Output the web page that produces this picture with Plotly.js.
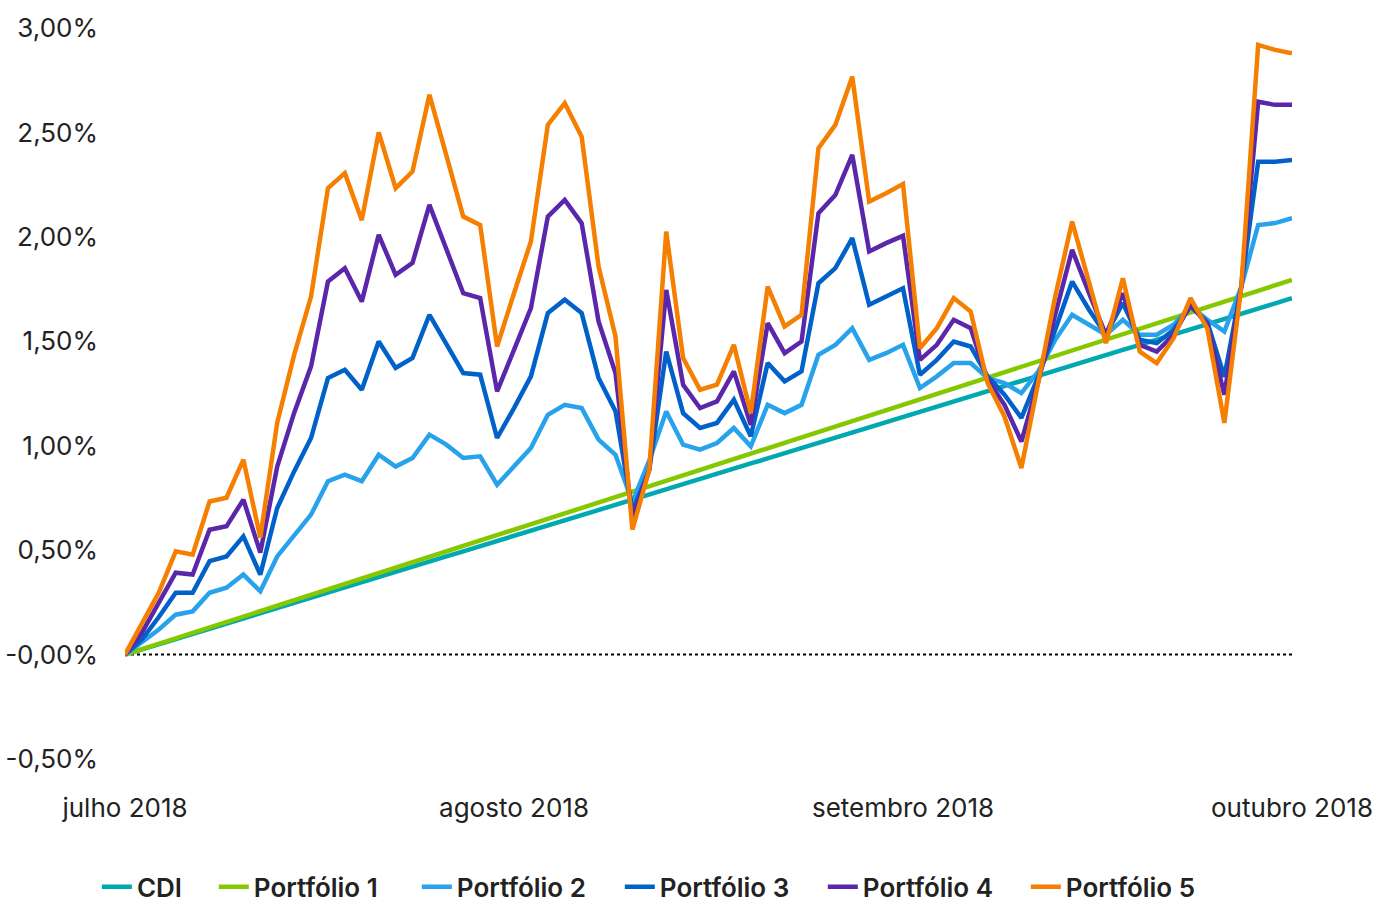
<!DOCTYPE html>
<html>
<head>
<meta charset="utf-8">
<script src="https://cdn.plot.ly/plotly-3.0.1.min.js"></script>
<style>
  html, body { margin: 0; padding: 0; background: #fff; }
  #grafico { width: 1392px; height: 904px; }
</style>
</head>
<body>
<div id="grafico"></div>
<script>
// rentabilidade acumulada (%) por dia util, jul-out 2018
var cdi = [0, 0.025, 0.049, 0.074, 0.099, 0.124, 0.148, 0.173, 0.198, 0.223,
  0.247, 0.272, 0.297, 0.321, 0.346, 0.371, 0.396, 0.420, 0.445, 0.470,
  0.494, 0.519, 0.544, 0.569, 0.593, 0.618, 0.643, 0.668, 0.692, 0.717,
  0.742, 0.766, 0.791, 0.816, 0.841, 0.865, 0.890, 0.915, 0.939, 0.964,
  0.989, 1.014, 1.038, 1.063, 1.088, 1.112, 1.137, 1.162, 1.187, 1.211,
  1.236, 1.261, 1.285, 1.310, 1.335, 1.360, 1.384, 1.409, 1.434, 1.459,
  1.483, 1.508, 1.533, 1.557, 1.582, 1.607, 1.632, 1.656, 1.681, 1.706];

var portfolio1 = [0, 0.026, 0.052, 0.078, 0.104, 0.130, 0.156, 0.182, 0.208, 0.234,
  0.260, 0.286, 0.312, 0.338, 0.364, 0.390, 0.416, 0.442, 0.468, 0.494,
  0.520, 0.546, 0.572, 0.598, 0.624, 0.650, 0.676, 0.702, 0.728, 0.754,
  0.780, 0.806, 0.832, 0.858, 0.884, 0.910, 0.936, 0.962, 0.988, 1.014,
  1.040, 1.066, 1.092, 1.118, 1.144, 1.170, 1.196, 1.222, 1.248, 1.274,
  1.300, 1.326, 1.352, 1.378, 1.404, 1.430, 1.456, 1.482, 1.508, 1.534,
  1.560, 1.586, 1.612, 1.638, 1.664, 1.690, 1.716, 1.742, 1.768, 1.794];

var portfolio2 = [0, 0.057, 0.12, 0.191, 0.207, 0.296, 0.32, 0.383, 0.303, 0.47,
  0.574, 0.67, 0.83, 0.861, 0.83, 0.957, 0.90, 0.941, 1.053, 1.005,
  0.941, 0.949, 0.813, 0.90, 0.989, 1.148, 1.196, 1.18, 1.029, 0.957,
  0.73, 0.93, 1.164, 1.005, 0.981, 1.013, 1.085, 0.997, 1.196, 1.156,
  1.196, 1.435, 1.483, 1.563, 1.411, 1.443, 1.483, 1.276, 1.332, 1.396,
  1.396, 1.324, 1.30, 1.252, 1.356, 1.507, 1.627, 1.579, 1.531, 1.603,
  1.531, 1.531, 1.579, 1.667, 1.603, 1.547, 1.76, 2.057, 2.066, 2.09];

var portfolio3 = [0, 0.072, 0.18, 0.296, 0.296, 0.447, 0.47, 0.566, 0.383, 0.702,
  0.877, 1.037, 1.324, 1.364, 1.268, 1.499, 1.372, 1.42, 1.627, 1.491,
  1.348, 1.34, 1.037, 1.18, 1.332, 1.635, 1.699, 1.635, 1.324, 1.165,
  0.686, 0.885, 1.451, 1.156, 1.085, 1.109, 1.22, 1.045, 1.396, 1.308,
  1.356, 1.778, 1.85, 1.994, 1.675, 1.714, 1.754, 1.34, 1.411, 1.499,
  1.475, 1.332, 1.244, 1.133, 1.332, 1.555, 1.786, 1.651, 1.531, 1.683,
  1.507, 1.491, 1.555, 1.667, 1.59, 1.33, 1.76, 2.36, 2.36, 2.368];

var portfolio4 = [0, 0.105, 0.249, 0.392, 0.383, 0.598, 0.614, 0.742, 0.488, 0.90,
  1.157, 1.38, 1.786, 1.85, 1.69, 2.01, 1.818, 1.875, 2.153, 1.946,
  1.73, 1.707, 1.26, 1.459, 1.659, 2.097, 2.177, 2.066, 1.595, 1.348,
  0.646, 0.885, 1.746, 1.292, 1.18, 1.212, 1.356, 1.10, 1.587, 1.443,
  1.499, 2.113, 2.20, 2.392, 1.93, 1.97, 2.005, 1.411, 1.483, 1.603,
  1.563, 1.316, 1.196, 1.02, 1.308, 1.627, 1.938, 1.73, 1.531, 1.73,
  1.483, 1.451, 1.531, 1.675, 1.58, 1.244, 1.76, 2.647, 2.632, 2.632];

var portfolio5 = [0, 0.144, 0.297, 0.494, 0.478, 0.733, 0.751, 0.933, 0.56, 1.11,
  1.435, 1.714, 2.233, 2.305, 2.08, 2.50, 2.233, 2.313, 2.68, 2.39,
  2.097, 2.057, 1.475, 1.73, 1.978, 2.536, 2.64, 2.48, 1.858, 1.523,
  0.598, 0.885, 2.025, 1.42, 1.268, 1.292, 1.483, 1.156, 1.762, 1.571,
  1.627, 2.424, 2.536, 2.767, 2.169, 2.209, 2.253, 1.467, 1.563, 1.707,
  1.643, 1.30, 1.14, 0.893, 1.292, 1.714, 2.073, 1.786, 1.491, 1.802,
  1.451, 1.396, 1.515, 1.707, 1.56, 1.109, 1.76, 2.919, 2.895, 2.879];

var nomes = ['CDI', 'Portfólio 1', 'Portfólio 2', 'Portfólio 3', 'Portfólio 4', 'Portfólio 5'];
var cores = ['#00a8b0', '#86c800', '#28a2ea', '#0062c9', '#5a27ab', '#f57f00'];

// rotulos do eixo x (um a cada 23 dias uteis)
var meses = ['julho 2018', 'agosto 2018', 'setembro 2018', 'outubro 2018'];
var posMeses = [0, 23, 46, 69];

var yTicks = [-0.5, 0, 0.5, 1, 1.5, 2, 2.5, 3];
var yLabels = ['-0,50%', '-0,00%', '0,50%', '1,00%', '1,50%', '2,00%', '2,50%', '3,00%'];

var series = [cdi, portfolio1, portfolio2, portfolio3, portfolio4, portfolio5];

var dias = cdi.map(function (v, i) { return i; });

var traces = series.map(function (s, k) {
  return {
    x: dias,
    y: s,
    name: nomes[k],
    // CDI tem legenda propria, mais estreita que as dos portfolios
    legend: k === 0 ? 'legend' : 'legend2',
    type: 'scatter',
    mode: 'lines',
    line: { color: cores[k], width: 4.5, shape: 'linear' },
    hoverinfo: 'skip'
  };
});

var fonte = 'Inter, "Open Sans", sans-serif';
var fonteLegenda = { family: fonte, size: 26, color: '#222222', weight: 600 };

var layout = {
  width: 1392,
  height: 904,
  margin: { l: 125, r: 100, t: 28, b: 145 },
  paper_bgcolor: '#ffffff',
  plot_bgcolor: '#ffffff',
  font: { family: fonte, size: 26, color: '#222222' },
  showlegend: true,
  legend: {
    orientation: 'h',
    xref: 'container',
    yref: 'container',
    x: 0.0696,
    xanchor: 'left',
    y: 0.019,
    yanchor: 'middle',
    font: fonteLegenda,
    itemwidth: 30
  },
  legend2: {
    orientation: 'h',
    xref: 'container',
    yref: 'container',
    x: 0.1536,
    xanchor: 'left',
    y: 0.019,
    yanchor: 'middle',
    font: fonteLegenda,
    itemwidth: 30,
    entrywidth: 158,
    tracegroupgap: 0
  },
  xaxis: {
    range: [0, 69],
    showgrid: false,
    zeroline: false,
    showline: false,
    automargin: false,
    tickmode: 'array',
    tickvals: posMeses,
    ticktext: meses,
    ticks: '',
    ticklabelstandoff: 31,
    tickfont: { family: fonte, size: 26, color: '#222222' }
  },
  yaxis: {
    range: [-0.5, 3.0],
    showgrid: false,
    zeroline: false,
    showline: false,
    automargin: false,
    tickmode: 'array',
    tickvals: yTicks,
    ticktext: yLabels,
    ticks: '',
    ticklabelstandoff: 26,
    tickfont: { family: fonte, size: 26, color: '#222222' }
  },
  shapes: [{
    type: 'line',
    xref: 'x',
    yref: 'y',
    x0: 0,
    x1: 69,
    y0: 0,
    y1: 0,
    layer: 'below',
    line: { color: '#000000', width: 2, dash: 'dot' }
  }]
};

Plotly.newPlot('grafico', traces, layout, { displayModeBar: false, staticPlot: true });
</script>
</body>
</html>
